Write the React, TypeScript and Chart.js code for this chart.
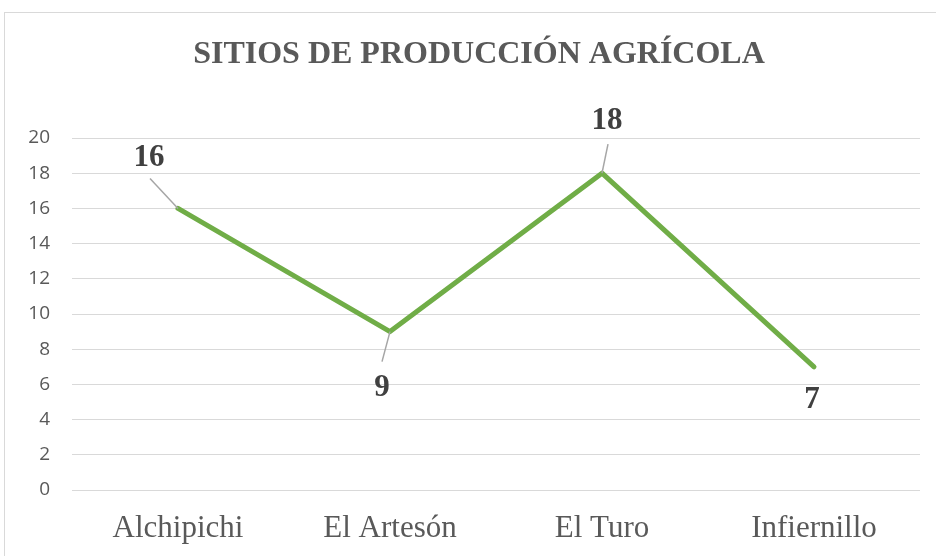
import React, { useEffect, useRef } from "react";
import { Chart, registerables } from "chart.js";

Chart.register(...registerables);

const chartTitle = "SITIOS DE PRODUCCIÓN AGRÍCOLA";
const categories = ["Alchipichi", "El Artesón", "El Turo", "Infiernillo"];
const values = [16, 9, 18, 7];
const yMin = 0;
const yMax = 20;
const yStep = 2;

// label placement relative to each point (style only)
const labelOffsets: [number, number][] = [[-29, -50], [-8, 56], [5, -52], [-2, 33]];
const leaderEnds: ([number, number] | null)[] = [[-28, -30], [-8, 30], [6, -29], null];

const W = 936;
const H = 556;

export default function App() {
  const ref = useRef<HTMLCanvasElement | null>(null);

  useEffect(() => {
    if (!ref.current) return;
    const framePlugin = {
      id: "frame",
      beforeDraw(chart: any) {
        const ctx = chart.ctx;
        ctx.save();
        ctx.fillStyle = "#ffffff";
        ctx.fillRect(0, 0, W, H);
        ctx.strokeStyle = "#D9D9D9";
        ctx.lineWidth = 1;
        ctx.strokeRect(4.5, 12.5, 1000, 700);
        ctx.fillStyle = "#595959";
        ctx.font = "bold 32px 'Liberation Serif', 'Times New Roman', serif";
        ctx.textAlign = "center";
        ctx.textBaseline = "middle";
        ctx.fillText(chartTitle, 479, 55);
        ctx.restore();
      },
    };
    const labelPlugin = {
      id: "pointLabels",
      afterDatasetsDraw(chart: any) {
        const ctx = chart.ctx;
        const meta = chart.getDatasetMeta(0);
        ctx.save();
        meta.data.forEach((pt: any, i: number) => {
          const le = leaderEnds[i];
          if (le) {
            ctx.strokeStyle = "#A6A6A6";
            ctx.lineWidth = 1.5;
            ctx.beginPath();
            ctx.moveTo(pt.x, pt.y);
            ctx.lineTo(pt.x + le[0], pt.y + le[1]);
            ctx.stroke();
          }
          const off = labelOffsets[i];
          ctx.fillStyle = "#404040";
          ctx.font = "bold 31px 'Liberation Serif', 'Times New Roman', serif";
          ctx.textAlign = "center";
          ctx.textBaseline = "middle";
          ctx.fillText(String(values[i]), pt.x + off[0], pt.y + off[1]);
        });
        ctx.restore();
      },
    };

    const chart = new Chart(ref.current, {
      type: "line",
      data: {
        labels: categories,
        datasets: [
          {
            data: values,
            borderColor: "#70AD47",
            backgroundColor: "#70AD47",
            borderWidth: 5,
            pointRadius: 0,
            borderCapStyle: "round",
            borderJoinStyle: "round",
            tension: 0,
          },
        ],
      },
      options: {
        responsive: false,
        animation: false,
        layout: { padding: { top: 138, left: 0, right: 16, bottom: 0 } },
        plugins: {
          legend: { display: false },
          title: { display: false },
          tooltip: { enabled: false },
        },
        scales: {
          x: {
            offset: true,
            grid: { display: false, drawTicks: false },
            border: { display: false },
            ticks: {
              color: "#595959",
              padding: 20,
              font: { family: "'Liberation Serif', 'Times New Roman', serif", size: 31 },
              maxRotation: 0,
            },
            afterFit(scale: any) {
              scale.height = 66;
            },
          },
          y: {
            min: yMin,
            max: yMax,
            grid: { color: "#D9D9D9", lineWidth: 1, drawTicks: false },
            border: { display: false },
            ticks: {
              stepSize: yStep,
              color: "#595959",
              padding: 22,
              font: { family: "'Open Sans', 'Liberation Sans', sans-serif", size: 19 },
            },
            afterFit(scale: any) {
              scale.width = 72;
            },
          },
        },
      },
      plugins: [framePlugin, labelPlugin],
    } as any);
    return () => chart.destroy();
  }, []);

  return (
    <div style={{ position: "fixed", left: 0, top: 0, width: W, height: H }}>
      <canvas ref={ref} width={W} height={H} style={{ display: "block", width: W, height: H }} />
    </div>
  );
}
